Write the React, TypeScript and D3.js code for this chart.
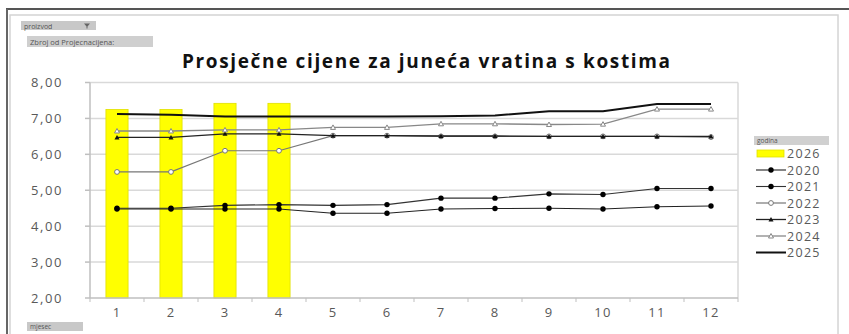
import React from "react";
import * as d3 from "d3";

const months = ["1", "2", "3", "4", "5", "6", "7", "8", "9", "10", "11", "12"];
const yTicks = [2, 3, 4, 5, 6, 7, 8];
const barSeriesName = "2026";
const barValues = [7.25, 7.25, 7.42, 7.42];

const s2020 = [4.48, 4.48, 4.48, 4.48, 4.36, 4.36, 4.48, 4.49, 4.5, 4.48, 4.54, 4.56];
const s2021 = [4.5, 4.5, 4.58, 4.6, 4.58, 4.6, 4.78, 4.78, 4.9, 4.88, 5.05, 5.05];
const s2022 = [5.51, 5.51, 6.1, 6.1, 6.52, 6.52, 6.5, 6.5, 6.5, 6.5, 6.5, 6.48];
const s2023 = [6.47, 6.47, 6.57, 6.57, 6.52, 6.52, 6.51, 6.51, 6.5, 6.5, 6.5, 6.5];
const s2024 = [6.65, 6.65, 6.68, 6.68, 6.75, 6.75, 6.85, 6.85, 6.83, 6.84, 7.26, 7.26];
const s2025 = [7.12, 7.1, 7.05, 7.05, 7.05, 7.05, 7.06, 7.08, 7.2, 7.2, 7.4, 7.4];

type Marker = "none" | "dot" | "circle" | "tri" | "tri2";
const lineSeries: { name: string; values: number[]; color: string; width: number; marker: Marker }[] = [
  { name: "2020", values: s2020, color: "#222", width: 1.1, marker: "dot" },
  { name: "2021", values: s2021, color: "#333", width: 1.1, marker: "dot" },
  { name: "2022", values: s2022, color: "#777", width: 1.2, marker: "circle" },
  { name: "2023", values: s2023, color: "#222", width: 1.3, marker: "tri" },
  { name: "2024", values: s2024, color: "#888", width: 1.3, marker: "tri2" },
  { name: "2025", values: s2025, color: "#111", width: 2, marker: "none" },
];

const W = 849;
const H = 334;
const plot = { left: 90, right: 738, top: 82.5, bottom: 298 };

function MarkerShape({ type, x, y, color }: { type: Marker; x: number; y: number; color: string }) {
  if (type === "dot") return <circle cx={x} cy={y} r={2.7} fill="#000" />;
  if (type === "circle") return <circle cx={x} cy={y} r={2.4} fill="#fff" stroke={color} strokeWidth={1} />;
  if (type === "tri")
    return <path d={`M${x},${y - 2.5}L${x + 2.5},${y + 2}L${x - 2.5},${y + 2}Z`} fill="#111" />;
  if (type === "tri2")
    return <path d={`M${x},${y - 2.5}L${x + 2.5},${y + 2}L${x - 2.5},${y + 2}Z`} fill="#fff" stroke={color} strokeWidth={1} />;
  return null;
}

export default function App() {
  const x = d3.scaleBand<string>().domain(months).range([plot.left, plot.right]).paddingInner(0).paddingOuter(0);
  const y = d3.scaleLinear().domain([2, 8]).range([plot.bottom, plot.top]);
  const barW = x.bandwidth() * 0.41;
  const cx = (m: string) => (x(m) as number) + x.bandwidth() / 2;
  const line = d3
    .line<number>()
    .x((_, i) => cx(months[i]))
    .y((d) => y(d));

  const font = "'Open Sans', 'DejaVu Sans', sans-serif";
  const legendItems = [barSeriesName, ...lineSeries.map((s) => s.name)];
  const legendY0 = 153.5;
  const legendStep = 16.5;

  return (
    <svg
      width={W}
      height={H}
      style={{ position: "absolute", left: 0, top: 0, background: "#fff" }}
      fontFamily={font}
    >
      <rect x={0} y={0} width={W} height={H} fill="#fff" />
      {/* outer frame */}
      <line x1={6} x2={W} y1={9} y2={9} stroke="#555" strokeWidth={2} />
      <line x1={7} x2={7} y1={9} y2={H} stroke="#666" strokeWidth={2} />
      <rect x={10} y={15} width={828} height={H} fill="none" stroke="#d4d4d4" strokeWidth={1.5} />

      {/* pivot buttons */}
      <rect x={21} y={21} width={75} height={9} fill="#c8c8c8" />
      <text x={24} y={28.5} fontSize={7} fill="#555">proizvod</text>
      <path d="M84,23.5L90,23.5L87.5,26.5L87.5,28.5L86.5,28.5L86.5,26.5Z" fill="#666" />
      <rect x={27} y={36} width={126} height={11} fill="#cfcfcf" />
      <text x={30} y={44.5} fontSize={7.5} fill="#555">Zbroj od Projecnacijena:</text>
      <rect x={27} y={322} width={56} height={9} fill="#c8c8c8" />
      <text x={30} y={329} fontSize={6.5} fill="#555">mjesec</text>

      {/* title */}
      <text
        x={182}
        y={68}
        fontSize={19}
        fontWeight="bold"
        fill="#111"
        textLength={488}
        lengthAdjust="spacing"
      >
        Prosječne cijene za juneća vratina s kostima
      </text>

      {/* gridlines */}
      {yTicks.map((t) => (
        <g key={t}>
          {t !== 2 && (
            <line x1={plot.left} x2={plot.right} y1={y(t)} y2={y(t)} stroke="#d9d9d9" strokeWidth={1.5} />
          )}
          <line x1={plot.left - 5} x2={plot.left} y1={y(t)} y2={y(t)} stroke="#bfbfbf" strokeWidth={1.5} />
          <text x={63} y={y(t) + 4.5} textAnchor="end" fontSize={13} letterSpacing={1.6} fill="#595959">
            {t.toFixed(2).replace(".", ",")}
          </text>
        </g>
      ))}
      {/* plot right border */}
      <line x1={plot.right} x2={plot.right} y1={plot.top} y2={plot.bottom} stroke="#d9d9d9" strokeWidth={1.5} />

      {/* bars */}
      {barValues.map((v, i) => (
        <rect
          key={i}
          x={cx(months[i]) - barW / 2}
          y={y(v)}
          width={barW}
          height={plot.bottom - y(v)}
          fill="#ffff00"
          stroke="#e0e000"
          strokeWidth={0.8}
        />
      ))}

      {/* axes */}
      <line x1={plot.left} x2={plot.left} y1={plot.top} y2={plot.bottom} stroke="#bfbfbf" strokeWidth={1.5} />
      <line x1={plot.left} x2={plot.right} y1={plot.bottom} y2={plot.bottom} stroke="#bfbfbf" strokeWidth={1.5} />
      {months.map((m, i) => (
        <g key={m}>
          <line
            x1={(x(m) as number) + x.bandwidth()}
            x2={(x(m) as number) + x.bandwidth()}
            y1={plot.bottom}
            y2={plot.bottom + 4}
            stroke="#bfbfbf"
            strokeWidth={1}
          />
          {i === 0 && (
            <line x1={x(m) as number} x2={x(m) as number} y1={plot.bottom} y2={plot.bottom + 4} stroke="#bfbfbf" />
          )}
          <text x={cx(m)} y={317} textAnchor="middle" fontSize={13} letterSpacing={1.2} fill="#595959">
            {m}
          </text>
        </g>
      ))}

      {/* lines */}
      {lineSeries.map((s) => (
        <g key={s.name}>
          <path d={line(s.values) || ""} fill="none" stroke={s.color} strokeWidth={s.width} />
          {s.values.map((v, i) => (
            <MarkerShape key={i} type={s.marker} x={cx(months[i])} y={y(v)} color={s.color} />
          ))}
        </g>
      ))}

      {/* legend */}
      <rect x={754} y={136} width={75} height={9} fill="#d0d0d0" />
      <text x={757} y={143} fontSize={6.5} fill="#555">godina</text>
      {legendItems.map((name, i) => {
        const ly = legendY0 + i * legendStep;
        const s = lineSeries.find((l) => l.name === name);
        return (
          <g key={name}>
            {i === 0 ? (
              <rect x={757} y={ly - 3.5} width={27} height={7} fill="#ffff00" stroke="#e0e000" strokeWidth={0.8} />
            ) : (
              <g>
                <line x1={756} x2={786} y1={ly} y2={ly} stroke={s!.color} strokeWidth={s!.width} />
                <MarkerShape type={s!.marker} x={771} y={ly} color={s!.color} />
              </g>
            )}
            <text x={787} y={ly + 4.5} fontSize={12.5} letterSpacing={1.3} fill="#595959">
              {name}
            </text>
          </g>
        );
      })}
    </svg>
  );
}
